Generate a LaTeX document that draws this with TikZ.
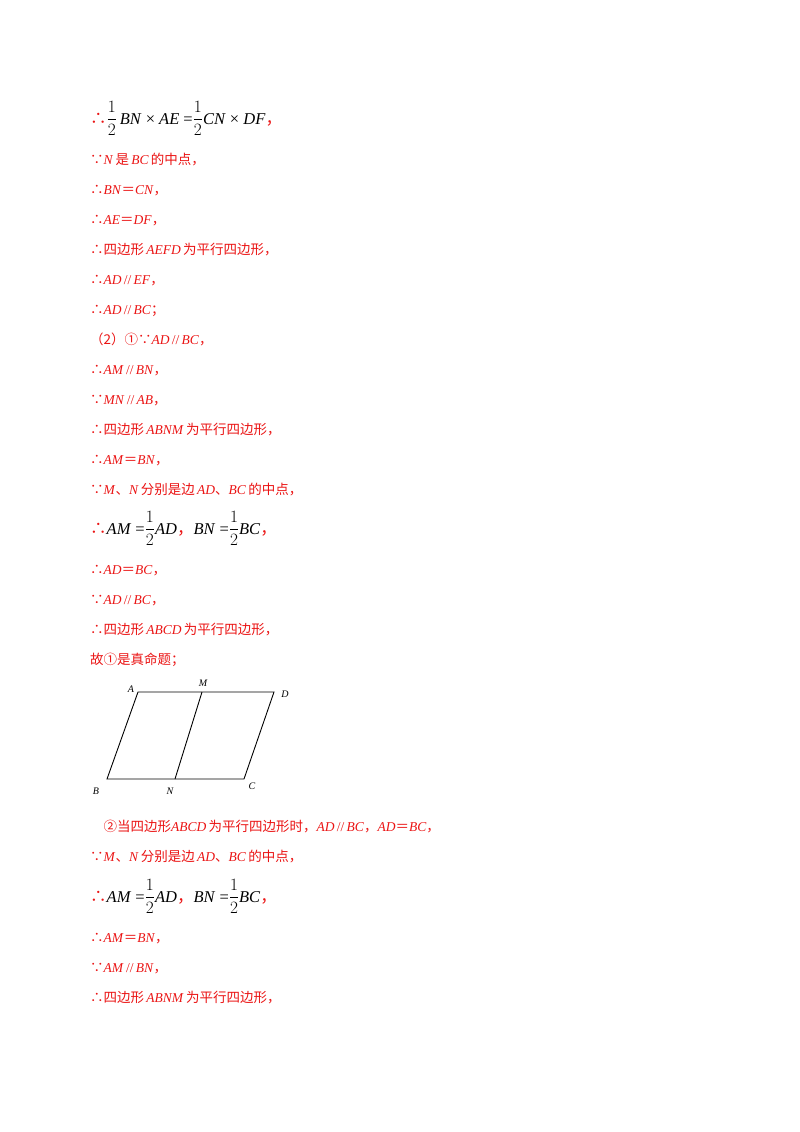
\documentclass[tikz,border=0pt]{standalone}
\usepackage{fontspec}
\setmainfont{Liberation Serif}
\newfontfamily\cjk{Noto Sans CJK SC}
\definecolor{ans}{RGB}{235,20,20}
\newcommand{\zh}[1]{{\cjk #1}}
\newcommand{\eqz}{{\cjk ＝}}
\begin{document}
\begin{tikzpicture}[x=1pt,y=-1pt,
  ln/.style={anchor=base west,inner sep=0pt,text=ans,font=\fontsize{13.5}{13.5}\selectfont},
  bk/.style={anchor=base west,inner sep=0pt,font=\fontsize{16.5}{16.5}\selectfont},
  lab/.style={inner sep=0pt,font=\fontsize{10}{10}\selectfont\itshape},
  seg/.style={line width=0.9pt}]
\useasboundingbox[fill=white] (0,0) rectangle (800,1132);
\node[bk] (l1) at (90,124) {\textcolor{ans}{\zh{∴}}$\displaystyle\frac{1}{2}$\,\textit{BN} × \textit{AE} =$\displaystyle\frac{1}{2}$\textit{CN} × \textit{DF}\textcolor{ans}{\zh{，}}};
\node[ln] (l2) at (90,164) {\zh{∵}\textit{N}\,\zh{是}\,\textit{BC}\,\zh{的中点，}};
\node[ln] (l3) at (90,194) {\zh{∴}\textit{BN}\eqz\textit{CN}\zh{，}};
\node[ln] (l4) at (90,224) {\zh{∴}\textit{AE}\eqz\textit{DF}\zh{，}};
\node[ln] (l5) at (90,254) {\zh{∴四边形}\,\textit{AEFD}\,\zh{为平行四边形，}};
\node[ln] (l6) at (90,284) {\zh{∴}\textit{AD}\,//\,\textit{EF}\zh{，}};
\node[ln] (l7) at (90,314) {\zh{∴}\textit{AD}\,//\,\textit{BC}\zh{；}};
\node[ln] (l8) at (90,344) {\zh{（2）①∵}\textit{AD}\,//\,\textit{BC}\zh{，}};
\node[ln] (l9) at (90,374) {\zh{∴}\textit{AM}\,//\,\textit{BN}\zh{，}};
\node[ln] (l10) at (90,404) {\zh{∵}\textit{MN}\,//\,\textit{AB}\zh{，}};
\node[ln] (l11) at (90,434) {\zh{∴四边形}\,\textit{ABNM}\,\zh{为平行四边形，}};
\node[ln] (l12) at (90,464) {\zh{∴}\textit{AM}\eqz\textit{BN}\zh{，}};
\node[ln] (l13) at (90,494) {\zh{∵}\textit{M}\zh{、}\textit{N}\,\zh{分别是边}\,\textit{AD}\zh{、}\textit{BC}\,\zh{的中点，}};
\node[bk] (l14) at (90,534) {\textcolor{ans}{\zh{∴}}\textit{AM} =$\displaystyle\frac{1}{2}$\textit{AD}\textcolor{ans}{\zh{，}}\textit{BN} =$\displaystyle\frac{1}{2}$\textit{BC}\textcolor{ans}{\zh{，}}};
\node[ln] (l15) at (90,574) {\zh{∴}\textit{AD}\eqz\textit{BC}\zh{，}};
\node[ln] (l16) at (90,604) {\zh{∵}\textit{AD}\,//\,\textit{BC}\zh{，}};
\node[ln] (l17) at (90,634) {\zh{∴四边形}\,\textit{ABCD}\,\zh{为平行四边形，}};
\node[ln] (l18) at (90,664) {\zh{故①是真命题；}};
% figure
\coordinate (A) at (138,692); \coordinate (M) at (202,692); \coordinate (D) at (274,692);
\coordinate (B) at (107,779); \coordinate (N) at (175,779); \coordinate (C) at (244,779);
\draw[seg] (A) -- (D) -- (C) -- (B) -- cycle;
\draw[seg] (M) -- (N);
\node[lab] (lA) at (131,689) {A};
\node[lab] (lM) at (203,683) {M};
\node[lab] (lD) at (285,694) {D};
\node[lab] (lB) at (96,791) {B};
\node[lab] (lN) at (170,791) {N};
\node[lab] (lC) at (252,786) {C};
\node[ln] (l19) at (90,831) {\zh{　②当四边形}\textit{ABCD}\,\zh{为平行四边形时，}\textit{AD}\,//\,\textit{BC}\zh{，}\textit{AD}\eqz\textit{BC}\zh{，}};
\node[ln] (l20) at (90,861) {\zh{∵}\textit{M}\zh{、}\textit{N}\,\zh{分别是边}\,\textit{AD}\zh{、}\textit{BC}\,\zh{的中点，}};
\node[bk] (l21) at (90,902) {\textcolor{ans}{\zh{∴}}\textit{AM} =$\displaystyle\frac{1}{2}$\textit{AD}\textcolor{ans}{\zh{，}}\textit{BN} =$\displaystyle\frac{1}{2}$\textit{BC}\textcolor{ans}{\zh{，}}};
\node[ln] (l22) at (90,942) {\zh{∴}\textit{AM}\eqz\textit{BN}\zh{，}};
\node[ln] (l23) at (90,972) {\zh{∵}\textit{AM}\,//\,\textit{BN}\zh{，}};
\node[ln] (l24) at (90,1002) {\zh{∴四边形}\,\textit{ABNM}\,\zh{为平行四边形，}};
\end{tikzpicture}
\end{document}
